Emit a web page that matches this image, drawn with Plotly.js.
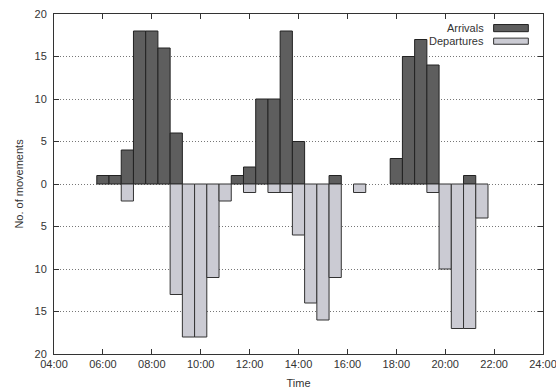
<!DOCTYPE html>
<html>
<head>
<meta charset="utf-8">
<script src="https://cdn.plot.ly/plotly-3.0.1.min.js"></script>
<style>html,body{margin:0;padding:0;background:#fff;}#chart{width:556px;height:391px;}</style>
</head>
<body>
<div id="chart"></div>
<script>
// Half-hour slots (bar centres)
var times = ["06:00","06:30","07:00","07:30","08:00","08:30","09:00","09:30","10:00","10:30",
             "11:00","11:30","12:00","12:30","13:00","13:30","14:00","14:30","15:00","15:30",
             "16:00","16:30","17:00","17:30","18:00","18:30","19:00","19:30","20:00","20:30",
             "21:00","21:30"];
var arrivals   = [1,1,4,18,18,16,6,0,0,0, 0,1,2,10,10,18,5,0,0,1, 0,0,0,0,3,15,17,14,0,0, 1,0];
var departures = [0,0,2,0,0,0,13,18,18,11, 2,0,1,0,1,1,6,14,16,11, 0,1,0,0,0,0,0,1,10,17, 17,4];

var xTickVals = [4,6,8,10,12,14,16,18,20,22,24];
var xTickText = ["04:00","06:00","08:00","10:00","12:00","14:00","16:00","18:00","20:00","22:00","24:00"];
var yTickVals = [-20,-15,-10,-5,0,5,10,15,20];
var yTickText = ["20","15","10","5","0","5","10","15","20"];

var seriesNames = ["Arrivals","Departures"];
var arrColor = "#5e5e5e";
var depColor = "#cbcbd3";

function toHours(t){ var p=t.split(":"); return +p[0] + (+p[1])/60; }
var xs = times.map(toHours);

var traces = [
  {type:"bar", name:seriesNames[0], x:xs, y:arrivals.map(function(v){return v===0?null:v;}),
   width:0.5, marker:{color:arrColor, line:{color:"#222", width:1}}, showlegend:false},
  {type:"bar", name:seriesNames[1], x:xs, y:departures.map(function(v){return v===0?null:-v;}),
   width:0.5, marker:{color:depColor, line:{color:"#333", width:1}}, showlegend:false}
];

var font = {family:"Liberation Sans, Arial, sans-serif", size:11, color:"#333"};

var layout = {
  width:556, height:391,
  margin:{l:54, r:13, t:14, b:37},
  paper_bgcolor:"#fff", plot_bgcolor:"#fff",
  barmode:"relative",
  font:font,
  xaxis:{range:[4,24], tickvals:xTickVals, ticktext:xTickText, ticks:"inside", ticklen:5,
         tickcolor:"#333", showline:true, linecolor:"#333", linewidth:1, mirror:"ticks",
         showgrid:false, zeroline:false, fixedrange:true, ticklabeloverflow:"allow",
         title:{text:"Time", font:font, standoff:10}},
  yaxis:{range:[-20,20], tickvals:yTickVals, ticktext:yTickText, ticks:"inside", ticklen:5,
         tickcolor:"#333", showline:true, linecolor:"#333", linewidth:1, mirror:"ticks",
         showgrid:true, gridcolor:"#777", griddash:"1px,2px", gridwidth:1, zeroline:false,
         ticklabelstandoff:4, fixedrange:true,
         title:{text:"No. of movements", font:font, standoff:8}},
  annotations:[
    {xref:"paper", yref:"paper", x:0.884, y:0.958, xanchor:"right", yanchor:"middle",
     text:seriesNames[0], showarrow:false, font:font},
    {xref:"paper", yref:"paper", x:0.884, y:0.920, xanchor:"right", yanchor:"middle",
     text:seriesNames[1], showarrow:false, font:font}
  ],
  shapes:[
    {type:"rect", xref:"paper", yref:"paper", x0:0.899, x1:0.970, y0:0.948, y1:0.969,
     fillcolor:arrColor, line:{color:"#222", width:1}},
    {type:"rect", xref:"paper", yref:"paper", x0:0.899, x1:0.970, y0:0.911, y1:0.929,
     fillcolor:depColor, line:{color:"#333", width:1}}
  ]
};

Plotly.newPlot("chart", traces, layout, {displayModeBar:false, staticPlot:true});
</script>
</body>
</html>
